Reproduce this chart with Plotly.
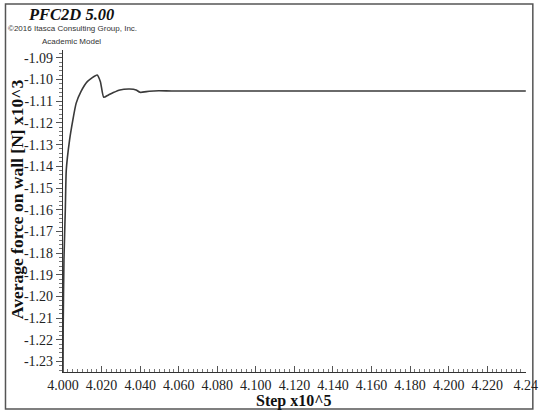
import plotly.graph_objects as go

# Data (step in x10^5, average force in x10^3 N)
steps = [4.0000, 4.0001, 4.0005, 4.0012, 4.0017, 4.0034, 4.0051, 4.0068, 4.0093,
         4.0126, 4.0177, 4.0194, 4.0211, 4.0236, 4.0261, 4.0295, 4.0346, 4.0379,
         4.0399, 4.0447, 4.0497, 4.0564, 4.1000, 4.1500, 4.2000, 4.2400]
force = [-1.2350, -1.2140, -1.1830, -1.1600, -1.1417, -1.1279, -1.1187, -1.1110, -1.1056,
         -1.1010, -1.0979, -1.1010, -1.1082, -1.1071, -1.1060, -1.1048, -1.1044, -1.1048,
         -1.1059, -1.1054, -1.1052, -1.1053, -1.1053, -1.1053, -1.1053, -1.1053]

x_ticks = [4.000, 4.020, 4.040, 4.060, 4.080, 4.100, 4.120, 4.140, 4.160, 4.180, 4.200, 4.220, 4.240]
x_tick_labels = ["4.000", "4.020", "4.040", "4.060", "4.080", "4.100", "4.120", "4.140",
                 "4.160", "4.180", "4.200", "4.220", "4.24"]
y_ticks = [-1.09, -1.10, -1.11, -1.12, -1.13, -1.14, -1.15, -1.16, -1.17, -1.18, -1.19,
           -1.20, -1.21, -1.22, -1.23]
y_tick_labels = ["%.2f" % v for v in y_ticks]

W, H = 550, 414
L, R, T, B = 63, 12, 50, 42
pw, ph = W - L - R, H - T - B


def px(x):
    return (x - L) / pw


def py(y):
    return (H - B - y) / ph


fig = go.Figure()
fig.add_trace(go.Scatter(x=steps, y=force, mode="lines",
                         line=dict(color="#3a3a3a", width=1.6, shape="spline", smoothing=0.5),
                         hoverinfo="skip", showlegend=False, cliponaxis=True))

serif = "Liberation Serif, Times New Roman, serif"
axis_common = dict(showgrid=False, zeroline=False, showline=True, linecolor="#333333",
                   linewidth=1.3, tickcolor="#555555", tickfont=dict(family=serif, size=14, color="#222222"))

fig.update_xaxes(range=[4.0, 4.2401], tickmode="array", tickvals=x_ticks, ticktext=x_tick_labels,
                 ticks="inside", ticklen=6, tickwidth=1, ticklabeloverflow="allow",
                 minor=dict(dtick=0.0025, tick0=4.0, ticks="inside", ticklen=3, tickcolor="#777777"),
                 **axis_common)
fig.update_yaxes(range=[-1.2348, -1.0864], tickmode="array", tickvals=y_ticks, ticktext=y_tick_labels,
                 ticks="outside", ticklen=6, tickwidth=1,
                 minor=dict(dtick=0.002, tick0=-1.09, ticks="outside", ticklen=3, tickcolor="#777777"),
                 **axis_common)

annotations = [
    dict(text="<b><i>PFC2D 5.00</i></b>", x=px(25), y=py(14), xanchor="left", yanchor="middle",
         font=dict(family=serif, size=16.5, color="#111111")),
    dict(text="\u00a92016 Itasca Consulting Group, Inc.", x=px(5), y=py(29), xanchor="left",
         yanchor="middle", font=dict(family="Liberation Sans, Arial, sans-serif", size=8, color="#333333")),
    dict(text="Academic Model", x=px(72), y=py(42), xanchor="center", yanchor="middle",
         font=dict(family="Liberation Sans, Arial, sans-serif", size=8, color="#333333")),
    dict(text="<b>Average force on wall [N] x10^3</b>", x=px(16), y=py(199), xanchor="center",
         yanchor="middle", textangle=-90, font=dict(family=serif, size=17.5, color="#111111")),
    dict(text="<b>Step x10^5</b>", x=px(300), y=py(401), xanchor="center", yanchor="middle",
         font=dict(family=serif, size=16, color="#111111")),
]
for a in annotations:
    a.update(xref="paper", yref="paper", showarrow=False)

fig.update_layout(
    width=W, height=H, margin=dict(l=L, r=R, t=T, b=B),
    paper_bgcolor="white", plot_bgcolor="white",
    annotations=annotations,
    shapes=[dict(type="rect", xref="paper", yref="paper", x0=px(4), x1=px(545), y0=py(409), y1=py(4),
                 line=dict(color="#555555", width=1.5), fillcolor="rgba(0,0,0,0)", layer="below")],
)

fig.write_html("out.html", config={"displayModeBar": False},
               post_script="document.body.style.margin='0';document.body.style.overflow='hidden';")
